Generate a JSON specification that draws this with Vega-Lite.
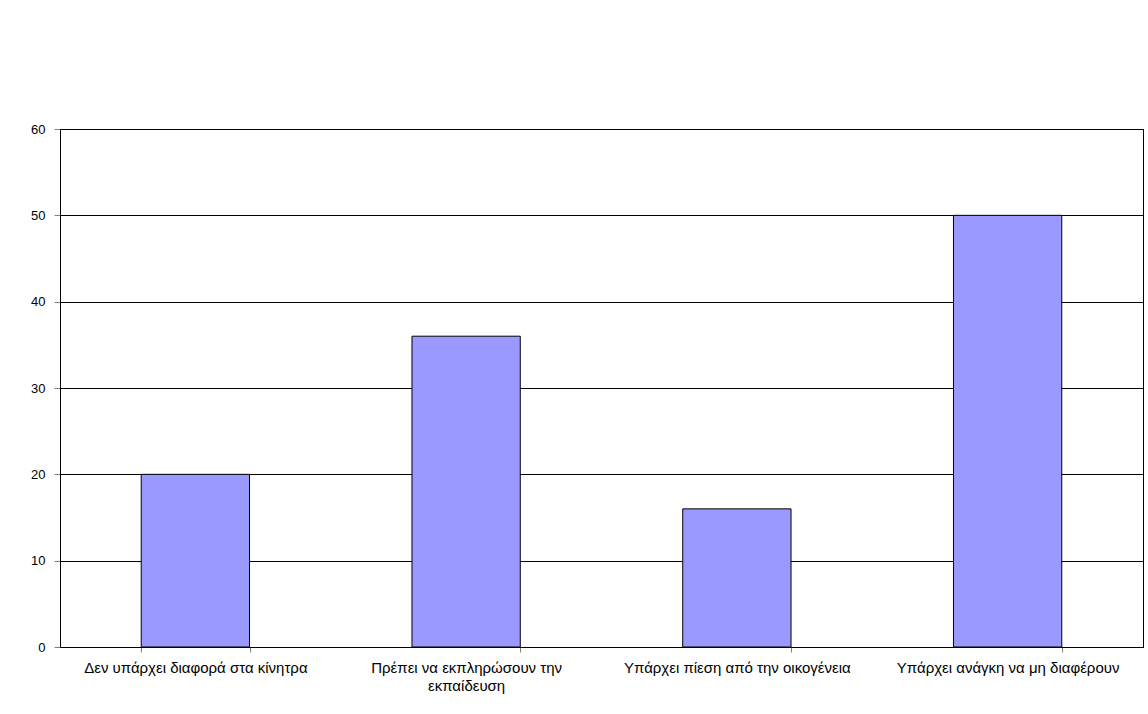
{
  "$schema": "https://vega.github.io/schema/vega-lite/v6.json",
  "width": 1083,
  "height": 518,
  "autosize": {"type": "none"},
  "padding": {"left": 60, "top": 129, "right": 5, "bottom": 67},
  "background": "white",
  "data": {"values": [
    {"category": "Δεν υπάρχει διαφορά στα κίνητρα", "value": 20},
    {"category": "Πρέπει να εκπληρώσουν την εκπαίδευση", "value": 36},
    {"category": "Υπάρχει πίεση από την οικογένεια", "value": 16},
    {"category": "Υπάρχει ανάγκη να μη διαφέρουν", "value": 50}
  ]},
  "mark": {"type": "bar", "color": "#9999FF", "stroke": "black", "strokeWidth": 1},
  "encoding": {
    "x": {
      "field": "category", "type": "nominal", "sort": null,
      "scale": {"paddingInner": 0.6, "paddingOuter": 0.3},
      "axis": {
        "title": null, "labelAngle": 0, "tickBand": "extent",
        "domainColor": "black", "tickColor": "#808080", "tickSize": 5,
        "labelFont": "Liberation Sans", "labelFontSize": 15, "labelColor": "black",
        "labelPadding": 8, "labelLimit": 300, "labelLineHeight": 18,
        "labelExpr": "datum.value == 'Πρέπει να εκπληρώσουν την εκπαίδευση' ? ['Πρέπει να εκπληρώσουν την', 'εκπαίδευση'] : datum.value"
      }
    },
    "y": {
      "field": "value", "type": "quantitative",
      "scale": {"domain": [0, 60]},
      "axis": {
        "title": null, "values": [0, 10, 20, 30, 40, 50, 60],
        "grid": true, "gridColor": "black", "gridOpacity": 1,
        "domainColor": "black", "tickColor": "#808080", "tickSize": 6,
        "labelFont": "Liberation Sans", "labelFontSize": 13, "labelColor": "black",
        "labelPadding": 9
      }
    }
  },
  "config": {"view": {"stroke": "black", "strokeWidth": 1}}
}
